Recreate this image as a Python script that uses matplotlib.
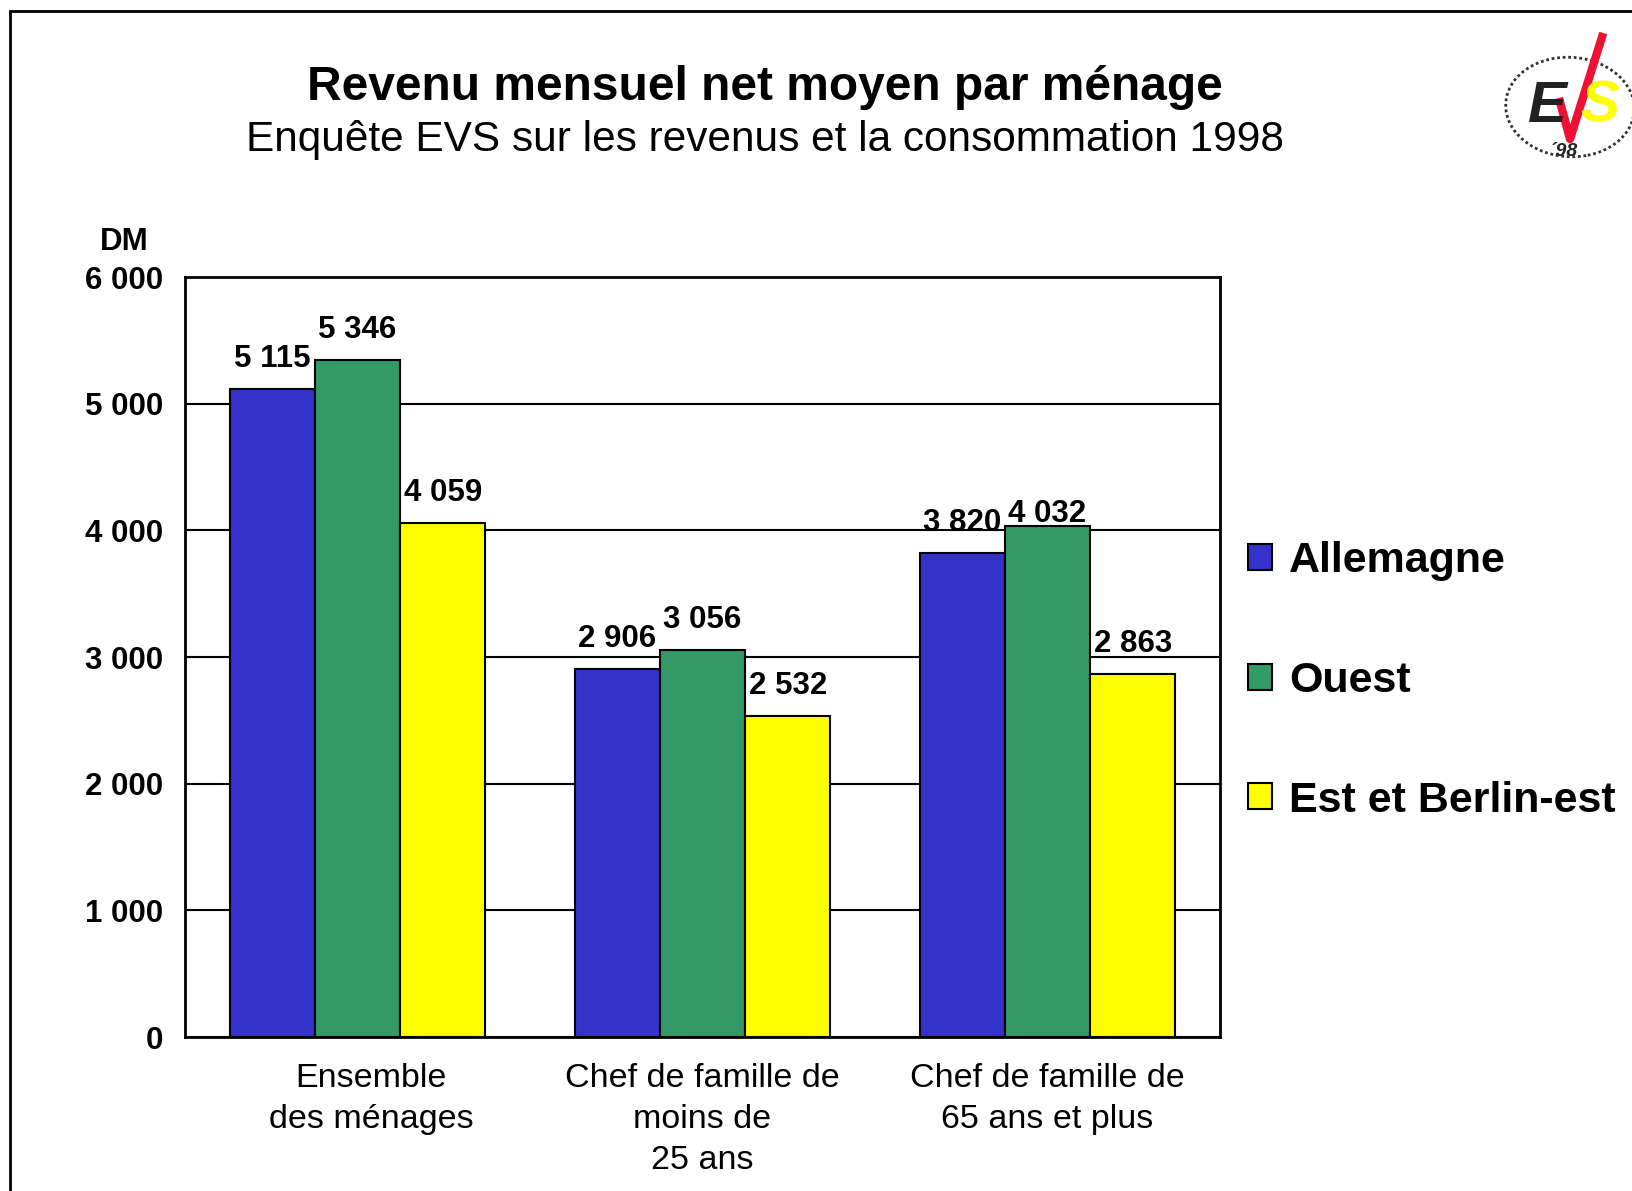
import matplotlib
matplotlib.use("Agg")
import matplotlib.pyplot as plt
import numpy as np
from matplotlib.patches import Rectangle, Ellipse
from matplotlib.lines import Line2D
from matplotlib.transforms import ScaledTranslation

plt.rcParams['font.family'] = ['Liberation Sans', 'DejaVu Sans']

# data
categories = ["Ensemble\ndes ménages", "Chef de famille de\nmoins de\n25 ans",
              "Chef de famille de\n65 ans et plus"]
series_names = ["Allemagne", "Ouest", "Est et Berlin-est"]
allemagne = [5115, 2906, 3820]
ouest = [5346, 3056, 4032]
est = [4059, 2532, 2863]
y_ticks = [0, 1000, 2000, 3000, 4000, 5000, 6000]
colors = ['#3333CC', '#339966', '#FFFF00']

fig = plt.figure(figsize=(16.32, 11.91), dpi=100)
ax = fig.add_axes([0.1134, 0.1293, 0.6341, 0.6381])

x = np.arange(len(categories))
w = 0.247
for i, (vals, c, name) in enumerate(zip([allemagne, ouest, est], colors, series_names)):
    bars = ax.bar(x + (i - 1) * w, vals, w, color=c, edgecolor='black',
                  linewidth=1.5, label=name, zorder=3)
    for j, (b, v) in enumerate(zip(bars, vals)):
        lab = f"{v:,}".replace(",", " ")
        # the 4 032 label sits lower in the original
        dy = -2 if (i == 1 and j == 2) else 11
        ax.annotate(lab, (b.get_x() + b.get_width() / 2, v), xytext=(0, dy),
                    textcoords='offset points', ha='center', va='bottom',
                    fontsize=22.5, fontweight='bold', zorder=4)

ax.set_xlim(-0.5, 2.5)
ax.set_ylim(0, 6000)
ax.set_yticks(y_ticks)
ax.set_yticklabels([f"{t:,}".replace(",", " ") for t in y_ticks],
                   fontsize=22.5, fontweight='bold')
ax.set_xticks(x)
ax.set_xticklabels(categories, fontsize=24.5, linespacing=1.4, va='top')
ax.tick_params(axis='both', length=0)
ax.tick_params(axis='y', pad=16)
ax.tick_params(axis='x', pad=19)
ax.yaxis.grid(True, color='black', linewidth=1.5, zorder=0)
ax.set_axisbelow(True)
for s in ax.spines.values():
    s.set_linewidth(2)
# first label is a bit right of its group in the original
lab0 = ax.get_xticklabels()[0]
lab0.set_transform(lab0.get_transform() + ScaledTranslation(0.135, 0, fig.dpi_scale_trans))

fig.text(124 / 1632, 1 - 242 / 1191, "DM", ha='center', va='center',
         fontsize=22.5, fontweight='bold')

leg = ax.legend(loc='center left', frameon=False,
                prop={'size': 31, 'weight': 'bold'}, handlelength=0.55,
                handleheight=0.55, handletextpad=0.4, labelspacing=1.85,
                borderaxespad=0, borderpad=0)
leg.set_bbox_to_anchor((1.027, 0.4685), transform=ax.transAxes)
for h in leg.legend_handles:
    h.set_linewidth(1.5)

# titles
fig.text(765 / 1632, 1 - 87 / 1191, "Revenu mensuel net moyen par ménage",
         ha='center', va='center', fontsize=34.5, fontweight='bold')
fig.text(765 / 1632, 1 - 140 / 1191,
         "Enquête EVS sur les revenus et la consommation 1998",
         ha='center', va='center', fontsize=30.5)

# outer frame
fig.patches.append(Rectangle((10 / 1632, -0.05), 1.2, 1 - 11 / 1191 + 0.05,
                             transform=fig.transFigure, fill=False,
                             edgecolor='black', linewidth=2))

# logo
lx, ly = 1570 / 1632, 1 - 107 / 1191
fig.patches.append(Ellipse((lx, ly), 128 / 1632, 100 / 1191, angle=15,
                           transform=fig.transFigure, fill=False,
                           edgecolor='#333333', linewidth=2, linestyle=(0, (1, 1))))
fig.text(lx - 23 / 1632, ly, "E", ha='center', va='center', fontsize=42,
         fontweight='bold', style='italic', color='#222222')
fig.text(lx + 30 / 1632, ly, "S", ha='center', va='center', fontsize=42,
         fontweight='bold', style='italic', color='#FFFF00')
fig.lines.append(Line2D([lx - 10 / 1632, lx + 0 / 1632, lx + 32 / 1632],
                        [ly + 5 / 1191, ly - 32 / 1191, ly + 70 / 1191],
                        transform=fig.transFigure, color='#EE1133', linewidth=6))
fig.text(lx - 6 / 1632, ly - 44 / 1191, "´98", ha='center', va='center',
         fontsize=14, fontweight='bold', style='italic', color='#222222')

fig.savefig("out.png", dpi=100)
